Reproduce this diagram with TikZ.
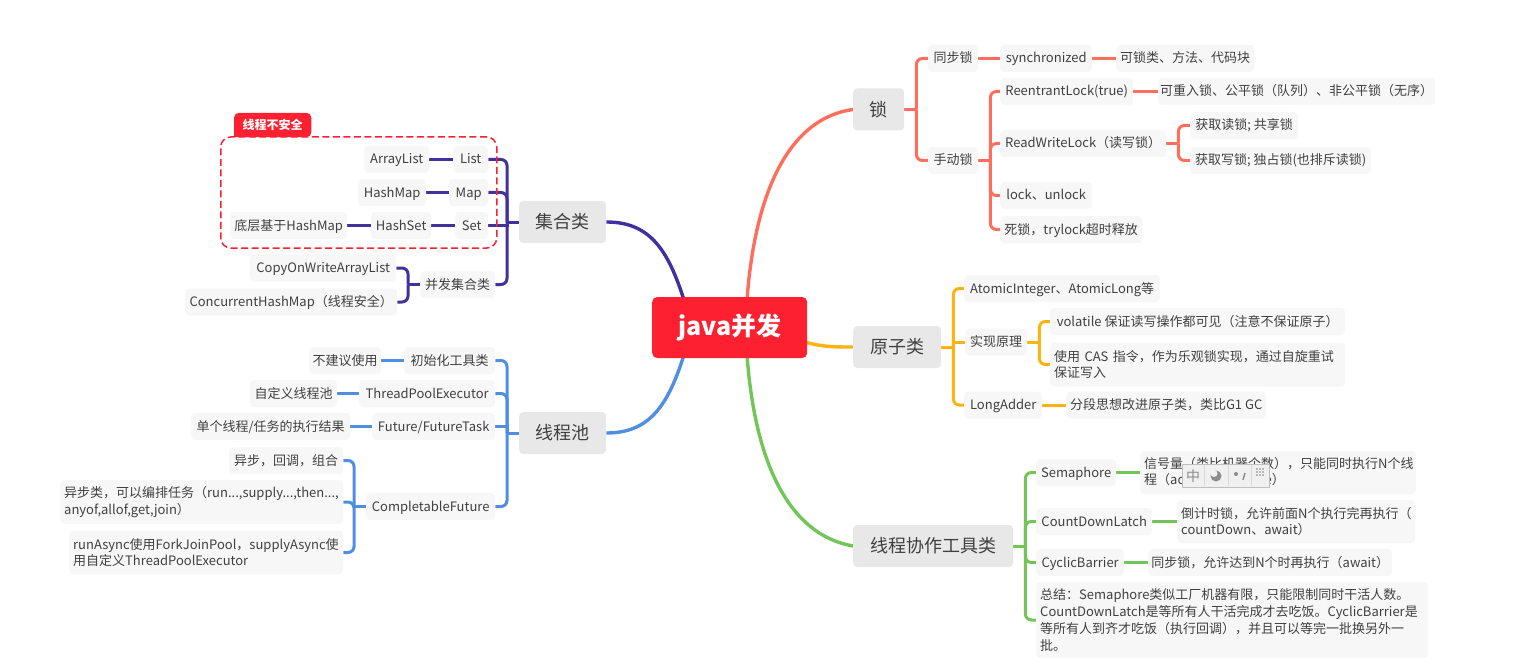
\documentclass[tikz,border=0pt]{standalone}
\usepackage{fontspec}
\setmainfont{Noto Sans CJK SC}
\usepackage{tikz}
\usetikzlibrary{backgrounds, calc}
\definecolor{rootred}{RGB}{252,32,48}
\definecolor{lockred}{RGB}{254,110,93}
\definecolor{amber}{RGB}{255,179,16}
\definecolor{leafgreen}{RGB}{114,198,89}
\definecolor{poolblue}{RGB}{79,142,224}
\definecolor{setpurple}{RGB}{66,48,156}
\definecolor{leafgray}{RGB}{247,247,247}
\definecolor{topicgray}{RGB}{232,232,232}
\definecolor{textdark}{RGB}{64,64,64}
\tikzset{
  leaf/.style={
    fill=leafgray, rounded corners=4pt, text=textdark, anchor=west,
    font=\fontsize{13}{16.7}\selectfont, align=left, inner sep=0pt,
    minimum height=27pt, minimum width=#1, text height=11pt, text depth=2pt
  },
  para/.style={
    leaf=#1, inner xsep=4pt, text width=#1-8, text height=, text depth=
  },
  topic/.style={
    fill=topicgray, rounded corners=4pt, text=textdark, anchor=west,
    font=\fontsize{18}{22}\selectfont, inner sep=0pt,
    minimum height=42pt, minimum width=#1
  },
  rootbox/.style={
    fill=rootred, rounded corners=5pt, text=white, anchor=west,
    font=\fontsize{25}{30}\selectfont\bfseries, inner sep=0pt,
    minimum height=61pt, minimum width=155pt
  },
  tagtext/.style={
    text=white, font=\fontsize{12}{14}\selectfont\bfseries, inner sep=0pt,
    minimum width=77pt, minimum height=24pt, anchor=west
  },
  link/.style={line width=3pt},
  roundlink/.style={link, rounded corners=6pt},
  curve/.style={line width=3.4pt}
}
\begin{document}
\begin{tikzpicture}[x=1pt, y=-1pt]
  \useasboundingbox (0,0) rectangle (1519,666);
  \node[rootbox] (root) at (652,327.5) {java并发};
  \coordinate (rootne) at (747,300);
  \coordinate (rootse) at (747,355);
  \coordinate (rootnw) at (684,300);
  \coordinate (rootsw) at (684,355);
  \coordinate (rooteast) at (805,342);

  % lock branch
  \node[topic=51] (suo) at (853,109.5) {锁};
  \node[leaf=50] (tongbu) at (928,58.5) {同步锁};
  \node[leaf=92] (sync) at (1000,58.5) {synchronized};
  \node[leaf=138] (synctext) at (1116,58.5) {可锁类、方法、代码块};
  \node[leaf=50] (shoudong) at (928,160.5) {手动锁};
  \node[leaf=133] (reentrant) at (1000,91.5) {ReentrantLock(true)};
  \node[leaf=277] (reentranttext) at (1158,91.5) {可重入锁、公平锁（队列）、非公平锁（无序）};
  \node[leaf=166] (rwlock) at (1000,143.5) {ReadWriteLock（读写锁）};
  \node[leaf=108] (readlock) at (1190,125.5) {获取读锁; 共享锁};
  \node[leaf=181] (writelock) at (1190,160.5) {获取写锁; 独占锁(也排斥读锁)};
  \node[leaf=92] (lockunlock) at (1000,195.5) {lock、unlock};
  \node[leaf=142] (deadlock) at (1000,229.5) {死锁，trylock超时释放};

  % atomic branch
  \node[topic=88] (atomic) at (853,347) {原子类};
  \node[leaf=196] (atomicint) at (964,288.5) {AtomicInteger、AtomicLong等};
  \node[leaf=62] (yuanli) at (965,342) {实现原理};
  \node[leaf=295] (volatile) at (1050,321.5) {volatile 保证读写操作都可见（注意不保证原子）};
  \node[para=295, minimum height=44pt] (cas) at (1050,364.5) {使用 CAS 指令，作为乐观锁实现，通过自旋重试\\保证写入};
  \node[leaf=78] (longadder) at (964,405) {LongAdder};
  \node[leaf=200] (longaddertext) at (1066,405) {分段思想改进原子类，类比G1 GC};

  % cooperation branch
  \node[topic=160] (xiezuo) at (853,546) {线程协作工具类};
  \node[leaf=80] (semaphore) at (1036,472.5) {Semaphore};
  \node[para=276, minimum height=43pt] (semtext) at (1140,472.5) {信号量（类比机器个数），只能同时执行N个线\\程（acquire、release）};
  \node[leaf=116] (latch) at (1036,521.5) {CountDownLatch};
  \node[para=238, minimum height=43pt] (latchtext) at (1177,521.5) {倒计时锁，允许前面N个执行完再执行（\\countDown、await）};
  \node[leaf=88] (barrier) at (1036,562.5) {CyclicBarrier};
  \node[leaf=244] (barriertext) at (1148,562.5) {同步锁，允许达到N个时再执行（await）};
  \node[para=392, minimum height=76pt] (summary) at (1036,620) {总结：Semaphore类似工厂机器有限，只能限制同时干活人数。\\CountDownLatch是等所有人干活完成才去吃饭。CyclicBarrier是\\等所有人到齐才吃饭（执行回调），并且可以等完一批换另外一\\批。};

  % collection branch
  \node[topic=87] (jihe) at (519,222) {集合类};
  \node[leaf=35] (list) at (453,159.5) {List};
  \node[leaf=65] (arraylist) at (364,159.5) {ArrayList};
  \node[leaf=39] (map) at (449,192.5) {Map};
  \node[leaf=68] (hashmap) at (358,192.5) {HashMap};
  \node[leaf=33] (set) at (455,225.5) {Set};
  \node[leaf=60] (hashset) at (371,225.5) {HashSet};
  \node[leaf=117] (hashbase) at (230,225.5) {底层基于HashMap};
  \node[leaf=75] (bingfa) at (420,284.5) {并发集合类};
  \node[leaf=146] (cowlist) at (250,268) {CopyOnWriteArrayList};
  \node[leaf=212] (chm) at (185,302) {ConcurrentHashMap（线程安全）};
  \node[draw=rootred, dash pattern=on 7pt off 3.5pt, line width=1.5pt, rounded corners=10pt, minimum width=276pt, minimum height=111pt, inner sep=0pt, anchor=west] (unsafe) at (220,192.5) {};
  \node[tagtext] (tag) at (234,125) {线程不安全};

  % pool branch
  \node[topic=87] (pool) at (519,433) {线程池};
  \node[leaf=91] (init) at (404,360.5) {初始化工具类};
  \node[leaf=72] (initnote) at (309,360.5) {不建议使用};
  \node[leaf=136] (tpe) at (359,393.5) {ThreadPoolExecutor};
  \node[leaf=87] (tpenote) at (250,393.5) {自定义线程池};
  \node[leaf=123] (future) at (372,426.5) {Future/FutureTask};
  \node[leaf=159] (futurenote) at (191,426.5) {单个线程/任务的执行结果};
  \node[leaf=129] (cf) at (366,506.5) {CompletableFuture};
  \node[leaf=114] (cfa) at (229,460.5) {异步，回调，组合};
  \node[para=283, minimum height=44pt] (cfb) at (60,502) {异步类，可以编排任务（run...,supply...,then...,\\anyof,allof,get,join）};
  \node[para=274, minimum height=44pt] (cfc) at (69,552.5) {runAsync使用ForkJoinPool，supplyAsync使\\用自定义ThreadPoolExecutor};

  \begin{scope}[on background layer]
    \draw[curve, lockred] (rootne) .. controls (755,190) and (790,118) .. (suo.west);
    \draw[curve, amber] (rooteast) .. controls (822,347) and (835,347) .. (atomic.west);
    \draw[curve, leafgreen] (rootse) .. controls (755,465) and (790,535) .. (xiezuo.west);
    \draw[curve, poolblue] (rootsw) .. controls (668,405) and (650,433) .. (pool.east);
    \draw[curve, setpurple] (rootnw) .. controls (668,250) and (650,222) .. (jihe.east);
    % straight links
    \foreach \pa/\ch in {tongbu/sync, sync/synctext, reentrant/reentranttext}
      \draw[link, lockred] (\pa) -- (\ch);
    \foreach \pa/\ch in {longadder/longaddertext}
      \draw[link, amber] (\pa) -- (\ch);
    \foreach \pa/\ch in {semaphore/semtext, latch/latchtext, barrier/barriertext}
      \draw[link, leafgreen] (\pa) -- (\ch);
    \foreach \pa/\ch in {list/arraylist, map/hashmap, set/hashset, hashset/hashbase}
      \draw[link, setpurple] (\pa) -- (\ch);
    \foreach \pa/\ch in {init/initnote, tpe/tpenote, future/futurenote}
      \draw[link, poolblue] (\pa) -- (\ch);
    % trunks
    \foreach \pa/\ch in {suo/tongbu, suo/shoudong, shoudong/reentrant, shoudong/rwlock, shoudong/lockunlock, shoudong/deadlock, rwlock/readlock, rwlock/writelock} {
      \draw[link, lockred] (\pa.east) -- ++(12,0);
      \draw[roundlink, lockred] ($(\pa.east)+(12,0)$) |- (\ch.west);
    }
    \foreach \pa/\ch in {atomic/atomicint, atomic/longadder, yuanli/volatile, yuanli/cas} {
      \draw[link, amber] (\pa.east) -- ++(12,0);
      \draw[roundlink, amber] ($(\pa.east)+(12,0)$) |- (\ch.west);
    }
    \draw[link, amber] (atomic.east) -- ++(12,0) |- (yuanli.west);
    \foreach \pa/\ch in {xiezuo/semaphore, xiezuo/latch, xiezuo/barrier, xiezuo/summary} {
      \draw[link, leafgreen] (\pa.east) -- ++(12,0);
      \draw[roundlink, leafgreen] ($(\pa.east)+(12,0)$) |- (\ch.west);
    }
    \foreach \pa/\ch in {jihe/list, jihe/map, jihe/bingfa, bingfa/cowlist, bingfa/chm} {
      \draw[link, setpurple] (\pa.west) -- ++(-12,0);
      \draw[roundlink, setpurple] ($(\pa.west)+(-12,0)$) |- (\ch.east);
    }
    \draw[link, setpurple] (jihe.west) -- ++(-12,0) |- (set.east);
    \foreach \pa/\ch in {pool/init, pool/tpe, pool/cf, cf/cfa, cf/cfb, cf/cfc} {
      \draw[link, poolblue] (\pa.west) -- ++(-12,0);
      \draw[roundlink, poolblue] ($(\pa.west)+(-12,0)$) |- (\ch.east);
    }
    \draw[link, poolblue] (pool.west) -- ++(-12,0) |- (future.east);
    \fill[rootred] (tag.south west) [rounded corners=5pt] |- (tag.north) -| (tag.south east) [sharp corners] -- cycle;
  \end{scope}

  % floating input bar
  \node[draw=black!25, fill=white!94!black, inner sep=0pt, minimum width=87pt, minimum height=23pt, anchor=west] (imebar) at (1182,475.5) {};
  \node[text=black!45, font=\fontsize{14}{16}\selectfont, inner sep=0pt] (imezh) at (1193,476) {中};
  \draw[black!15] (1204,465) -- (1204,486) (1228,465) -- (1228,486) (1251,465) -- (1251,486);
  \fill[black!45] (1216,476) circle (5.5pt);
  \fill[white!94!black] (1214,473.5) circle (3.5pt);
  \fill[black!45] (1236,474) circle (2pt);
  \draw[black!45, line width=1.4pt] (1245,473) -- (1243,480);
  \foreach \dx in {0,3,6}
    \foreach \dy in {0,3,6}
      \fill[black!50] (1257+\dx,469+\dy) circle (0.8pt);
\end{tikzpicture}
\end{document}
